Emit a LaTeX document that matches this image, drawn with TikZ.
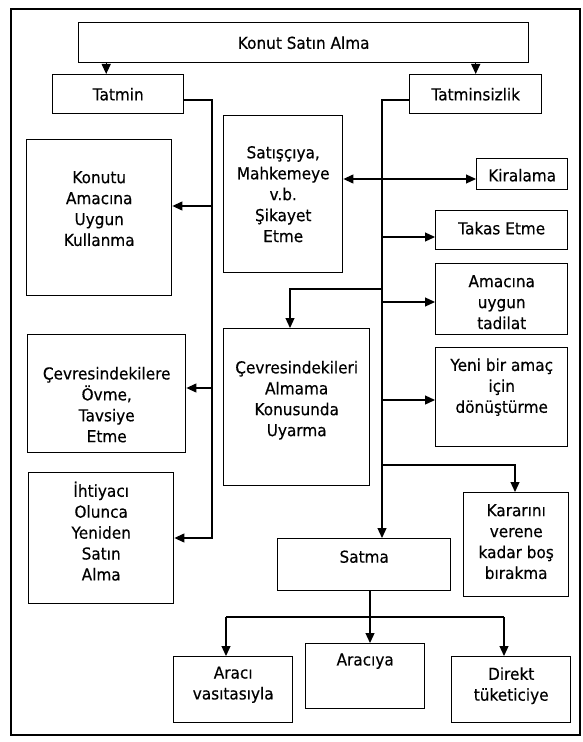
\documentclass[tikz,border=0pt]{standalone}
\usepackage{fontspec}
\setmainfont{DejaVu Sans}[FakeStretch=0.93,FakeBold=0.4]
\usetikzlibrary{arrows.meta}
\begin{document}
\begin{tikzpicture}[x=1bp,y=-1bp,
  box/.style={draw, line width=1.4bp, inner sep=0pt, anchor=north west},
  txt/.style={align=center, inner sep=0pt, font=\fontsize{16.5}{21}\selectfont},
  conn/.style={line width=1.2bp},
  tip/.tip={Triangle[length=10bp,width=9bp]},
  arr/.style={conn, -tip},
  darr/.style={conn, tip-tip},
]
\useasboundingbox (0,0) rectangle (583,742);
\draw[line width=1.4bp] (11,9) rectangle (580,735);

% boxes
\node[box, minimum width=450bp, minimum height=40bp] (top) at (78,22) {};
\node[box, minimum width=131bp, minimum height=39bp] (tat) at (52,74) {};
\node[box, minimum width=132bp, minimum height=39bp] (tsz) at (409,74) {};
\node[box, minimum width=145bp, minimum height=156bp] (kon) at (26,139) {};
\node[box, minimum width=158bp, minimum height=118bp] (cev) at (27,334) {};
\node[box, minimum width=145bp, minimum height=131bp] (iht) at (28,472) {};
\node[box, minimum width=119bp, minimum height=157bp] (sat) at (223,115) {};
\node[box, minimum width=91bp, minimum height=31bp] (kir) at (476,158) {};
\node[box, minimum width=132bp, minimum height=39bp] (tak) at (435,210) {};
\node[box, minimum width=132bp, minimum height=71bp] (ama) at (435,263) {};
\node[box, minimum width=146bp, minimum height=157bp] (cvl) at (223,328) {};
\node[box, minimum width=132bp, minimum height=99bp] (yen) at (435,347) {};
\node[box, minimum width=105bp, minimum height=104bp] (kar) at (463,492) {};
\node[box, minimum width=173bp, minimum height=52bp] (sam) at (277,538) {};
\node[box, minimum width=119bp, minimum height=66bp] (arv) at (173,656) {};
\node[box, minimum width=119bp, minimum height=65bp] (arc) at (305,643) {};
\node[box, minimum width=119bp, minimum height=66bp] (dir) at (451,656) {};

% texts
\node[txt] (top-t) at (top.center) {Konut Satın Alma};
\node[txt] (tat-t) at (tat.center) {Tatmin};
\node[txt] (tsz-t) at (tsz.center) {Tatminsizlik};
\node[txt] (kon-t) at ([yshift=9bp]kon.center) {Konutu\\Amacına\\Uygun\\Kullanma};
\node[txt] (cev-t) at ([yshift=-11bp]cev.center) {Çevresindekilere\\Övme,\\Tavsiye\\Etme};
\node[txt] (iht-t) at ([yshift=7bp]iht.center) {İhtiyacı\\Olunca\\Yeniden\\Satın\\Alma};
\node[txt] (sat-t) at (sat.center) {Satışçıya,\\Mahkemeye\\v.b.\\Şikayet\\Etme};
\node[txt] (kir-t) at ([yshift=-1bp]kir.center) {Kiralama};
\node[txt] (tak-t) at ([yshift=2bp]tak.center) {Takas Etme};
\node[txt] (ama-t) at ([yshift=-3bp]ama.center) {Amacına\\uygun\\tadilat};
\node[txt] (cvl-t) at ([yshift=7bp]cvl.center) {Çevresindekileri\\Almama\\Konusunda\\Uyarma};
\node[txt] (yen-t) at ([yshift=10bp]yen.center) {Yeni bir amaç\\için\\dönüştürme};
\node[txt] (kar-t) at ([yshift=3bp]kar.center) {Kararını\\verene\\kadar boş\\bırakma};
\node[txt] (sam-t) at ([yshift=8bp]sam.center) {Satma};
\node[txt] (arv-t) at ([yshift=5bp]arv.center) {Aracı\\vasıtasıyla};
\node[txt] (arc-t) at ([yshift=15bp]arc.center) {Aracıya};
\node[txt] (dir-t) at ([yshift=4bp]dir.center) {Direkt\\tüketiciye};

% top to branches
\draw[arr] ([xshift=-12bp]tat.north |- top.south) -- ([xshift=-12bp]tat.north);
\draw[arr] (tsz.north |- top.south) -- (tsz.north);

% Tatmin branch
\coordinate (tA) at (212,100);
\coordinate (tB) at (212,538);
\coordinate (tK) at (212,206);
\coordinate (tC) at (212,388);
\draw[arr] (tat.east |- tA) -- (tA) -- (tB) -- (tB -| iht.east);
\draw[arr] (tK) -- (tK -| kon.east);
\draw[arr] (tC) -- (tC -| cev.east);

% Tatminsizlik branch
\coordinate (rA) at (382,100);
\coordinate (rK) at (382,179);
\coordinate (rT) at (382,237);
\coordinate (rM) at (382,302);
\coordinate (rY) at (382,400);
\coordinate (rC) at (382,289);
\coordinate (cC) at (290,289);
\coordinate (rR) at (382,465);
\coordinate (kR) at (515,465);
\draw[arr] (tsz.west |- rA) -- (rA) -- (rA |- sam.north);
\draw[darr] (sat.east |- rK) -- (rK -| kir.west);
\draw[arr] (rT) -- (rT -| tak.west);
\draw[arr] (rM) -- (rM -| ama.west);
\draw[arr] (rY) -- (rY -| yen.west);
\draw[arr] (rC) -- (cC) -- (cC |- cvl.north);
\draw[arr] (rR) -- (kR) -- (kR |- kar.north);

% Satma branch
\coordinate (sB) at (370,617);
\coordinate (hL) at (226,617);
\coordinate (hR) at (504,617);
\draw[arr] (sam.south -| sB) -- (sB |- arc.north);
\draw[conn] (hL) -- (hR);
\draw[arr] (hL) -- (hL |- arv.north);
\draw[arr] (hR) -- (hR |- dir.north);
\end{tikzpicture}
\end{document}
